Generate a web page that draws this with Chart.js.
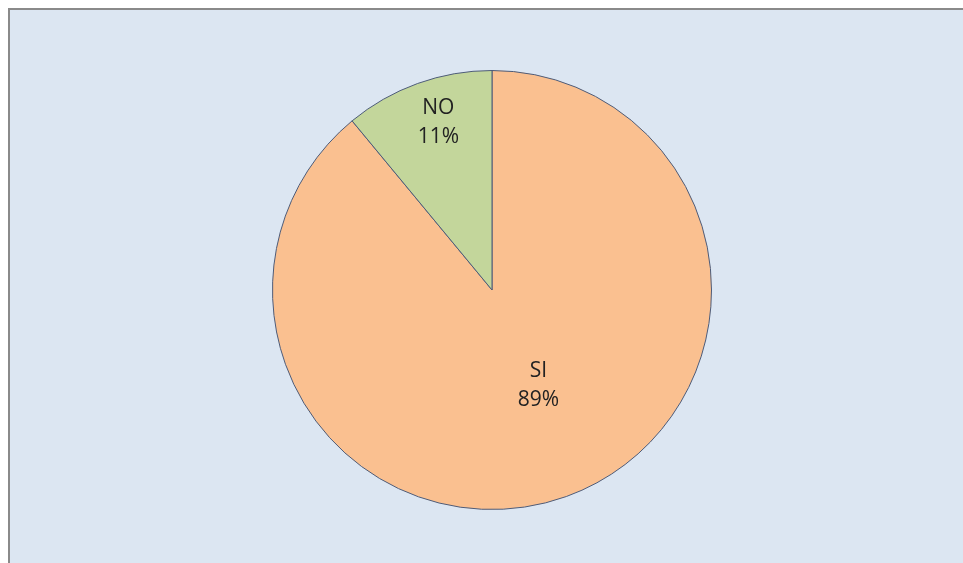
<!DOCTYPE html>
<html>
<head>
<meta charset="utf-8">
<script src="https://cdn.jsdelivr.net/npm/chart.js@4/dist/chart.umd.min.js"></script>
<style>
  html, body { margin: 0; padding: 0; background: #ffffff; overflow: hidden; }
  #frame {
    position: absolute; left: 8px; top: 8px; width: 1000px; height: 600px;
    background: #dce6f2; border-left: 2px solid #8a8a8a; border-top: 2px solid #8a8a8a;
  }
  #wrap { position: absolute; left: 0; top: 0; width: 963px; height: 563px; }
</style>
</head>
<body>
<div id="frame"></div>
<div id="wrap"><canvas id="pieChart"></canvas></div>
<script>
// Chart data
const categories = ['SI', 'NO'];
const percentages = [89, 11];
const sliceColors = ['#fac090', '#c3d69b'];

// Draws "category / percent" inside each slice, like the Excel labels
const sliceLabels = {
  id: 'sliceLabels',
  afterDatasetsDraw(chart, args, opts) {
    const ctx = chart.ctx;
    const meta = chart.getDatasetMeta(0);
    ctx.save();
    ctx.font = opts.font;
    ctx.fillStyle = opts.color;
    ctx.textAlign = 'center';
    ctx.textBaseline = 'middle';
    meta.data.forEach((arc, i) => {
      const p = arc.getProps(['x', 'y', 'startAngle', 'endAngle', 'outerRadius'], true);
      const mid = (p.startAngle + p.endAngle) / 2 + opts.angleShift[i] * Math.PI / 180;
      const r = p.outerRadius * opts.radius[i];
      const x = p.x + Math.cos(mid) * r;
      const y = p.y + Math.sin(mid) * r;
      ctx.fillText(chart.data.labels[i], x, y - opts.lineGap / 2);
      ctx.fillText(chart.data.datasets[0].data[i] + '%', x, y + opts.lineGap / 2);
    });
    ctx.restore();
  }
};

const ctx = document.getElementById('pieChart').getContext('2d');
new Chart(ctx, {
  type: 'pie',
  data: {
    labels: categories,
    datasets: [{
      data: percentages,
      backgroundColor: sliceColors,
      borderColor: '#4d5b78',
      borderWidth: 1
    }]
  },
  plugins: [sliceLabels],
  options: {
    responsive: true,
    maintainAspectRatio: false,
    animation: false,
    rotation: 0,
    layout: { padding: { top: 70, bottom: 53, left: 21, right: 0 } },
    plugins: {
      legend: { display: false },
      tooltip: { enabled: false },
      sliceLabels: {
        font: '21px "Open Sans"',
        color: '#222222',
        lineGap: 29,
        radius: [0.485, 0.8],
        angleShift: [-6, 2]
      }
    }
  }
});
</script>
</body>
</html>
